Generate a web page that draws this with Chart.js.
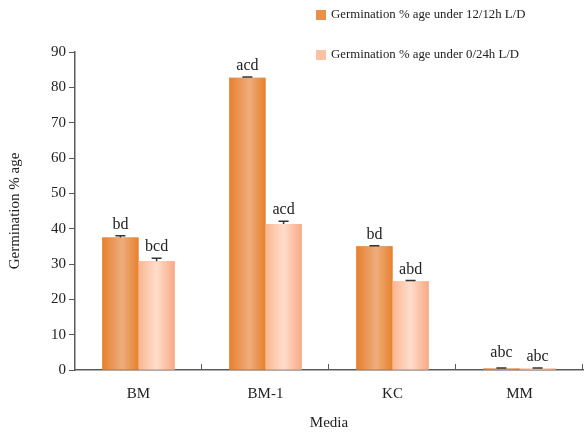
<!DOCTYPE html>
<html>
<head>
<meta charset="utf-8">
<script src="https://cdn.jsdelivr.net/npm/chart.js@4/dist/chart.umd.min.js"></script>
<style>
  html, body { margin: 0; padding: 0; background: #ffffff; }
  #wrap { width: 584px; height: 434px; position: relative; }
</style>
</head>
<body>
<div id="wrap"><canvas id="c"></canvas></div>
<script>
// Germination percentage per culture medium
const media = ['BM', 'BM-1', 'KC', 'MM'];
const germ12 = [37.5, 82.7, 35.0, 0.4];   // 12/12h light/dark
const germ0 = [30.8, 41.3, 25.1, 0.4];    // 0/24h light/dark
const err12 = [0.5, 0.2, 0.2, 0.2];
const err0 = [0.8, 0.8, 0.2, 0.2];
const letters12 = ['bd', 'acd', 'bd', 'abc'];
const letters0 = ['bcd', 'acd', 'abd', 'abc'];
const seriesNames = ['Germination % age under 12/12h L/D', 'Germination % age under 0/24h L/D'];
const yTickValues = [0, 10, 20, 30, 40, 50, 60, 70, 80, 90];

const SERIF = '"Liberation Serif", "Times New Roman", serif';
const AXIS = '#5a5a5a';

// Cylinder-like shading for each series: stops across the bar width
const shades = [
  [[0, '#E7802C'], [0.55, '#EEAD7E'], [1, '#E7812C']],
  [[0, '#FBB690'], [0.5, '#FEDDCC'], [1, '#F9A984']]
];
const legendSwatches = ['#E98F49', '#FBC1A1'];
const errorSets = [err12, err0];
const letterSets = [letters12, letters0];

// Repaints every bar element with its horizontal shading
const shadedBars = {
  id: 'shadedBars',
  afterDatasetsDraw(chart) {
    const ctx = chart.ctx;
    ctx.save();
    chart.data.datasets.forEach((ds, di) => {
      chart.getDatasetMeta(di).data.forEach(el => {
        const left = el.x - el.width / 2;
        const g = ctx.createLinearGradient(left, 0, left + el.width, 0);
        shades[di].forEach(([o, c]) => g.addColorStop(o, c));
        ctx.fillStyle = g;
        const top = Math.min(el.y, el.base);
        ctx.fillRect(left, top, el.width, Math.abs(el.base - el.y));
      });
    });
    ctx.restore();
  }
};

const errorsAndLetters = {
  id: 'errorsAndLetters',
  afterDatasetsDraw(chart) {
    const ctx = chart.ctx;
    const y = chart.scales.y;
    ctx.save();
    chart.data.datasets.forEach((ds, di) => {
      chart.getDatasetMeta(di).data.forEach((el, i) => {
        const v = ds.data[i];
        const e = errorSets[di][i];
        const yv = y.getPixelForValue(v);
        const yt = y.getPixelForValue(v + e);
        ctx.strokeStyle = '#333333';
        ctx.lineWidth = 1.5;
        ctx.beginPath();
        ctx.moveTo(el.x, yv);
        ctx.lineTo(el.x, yt);
        ctx.moveTo(el.x - 5, yt);
        ctx.lineTo(el.x + 5, yt);
        ctx.stroke();
        const base = y.getPixelForValue(0);
        const ly = Math.min(yt - 7, base - (di === 0 ? 13 : 9));
        ctx.fillStyle = '#222222';
        ctx.font = '16px ' + SERIF;
        ctx.textAlign = 'center';
        ctx.textBaseline = 'alphabetic';
        ctx.fillText(letterSets[di][i], el.x, ly);
      });
    });
    ctx.restore();
  }
};

// Upward tick marks at category boundaries along the x axis
const categoryTicks = {
  id: 'categoryTicks',
  afterDraw(chart) {
    const ctx = chart.ctx;
    const x = chart.scales.x;
    const base = chart.chartArea.bottom;
    const step = x.getPixelForValue(1) - x.getPixelForValue(0);
    ctx.save();
    ctx.strokeStyle = AXIS;
    ctx.lineWidth = 1;
    for (let i = 0; i < media.length; i++) {
      const px = Math.round(x.getPixelForValue(i) + step / 2) - 0.5;
      ctx.beginPath();
      ctx.moveTo(px, base);
      ctx.lineTo(px, base - 6);
      ctx.stroke();
    }
    ctx.restore();
  }
};

const stackedLegend = {
  id: 'stackedLegend',
  afterDraw(chart) {
    const ctx = chart.ctx;
    ctx.save();
    ctx.font = '12.8px ' + SERIF;
    ctx.textBaseline = 'middle';
    ctx.textAlign = 'left';
    const rows = [15, 55];
    chart.data.datasets.forEach((ds, di) => {
      ctx.fillStyle = legendSwatches[di];
      ctx.fillRect(316, rows[di] - 5, 10, 10);
      ctx.fillStyle = '#222222';
      ctx.fillText(ds.label, 331, rows[di]);
    });
    ctx.restore();
  }
};

new Chart(document.getElementById('c'), {
  type: 'bar',
  data: {
    labels: media,
    datasets: [
      { label: seriesNames[0], data: germ12, backgroundColor: '#E98F49', borderWidth: 0 },
      { label: seriesNames[1], data: germ0, backgroundColor: '#FBC1A1', borderWidth: 0 }
    ]
  },
  options: {
    responsive: true,
    maintainAspectRatio: false,
    animation: false,
    devicePixelRatio: 1,
    layout: { padding: { top: 52, right: 1, bottom: 0, left: 0 } },
    datasets: { bar: { categoryPercentage: 0.57, barPercentage: 1 } },
    plugins: { legend: { display: false }, tooltip: { enabled: false } },
    scales: {
      x: {
        grid: { display: false, drawTicks: false },
        border: { color: AXIS, width: 1.5 },
        ticks: { color: '#222222', font: { family: SERIF, size: 15 }, padding: 15 },
        title: { display: true, text: 'Media', color: '#222222', font: { family: SERIF, size: 15 }, padding: { top: 0, bottom: 2 } },
        afterFit(s) { s.height = 64; }
      },
      y: {
        min: 0,
        max: 90,
        afterBuildTicks(s) { s.ticks = yTickValues.map(v => ({ value: v })); },
        grid: { drawOnChartArea: false, drawTicks: true, tickLength: 6, color: AXIS },
        border: { color: AXIS, width: 1.5 },
        ticks: { color: '#222222', font: { family: SERIF, size: 15 }, padding: 3 },
        title: { display: true, text: 'Germination % age', color: '#222222', font: { family: SERIF, size: 15 }, padding: { top: 6, bottom: 0 } },
        afterFit(s) { s.width = 75; }
      }
    }
  },
  plugins: [shadedBars, errorsAndLetters, categoryTicks, stackedLegend]
});
</script>
</body>
</html>
